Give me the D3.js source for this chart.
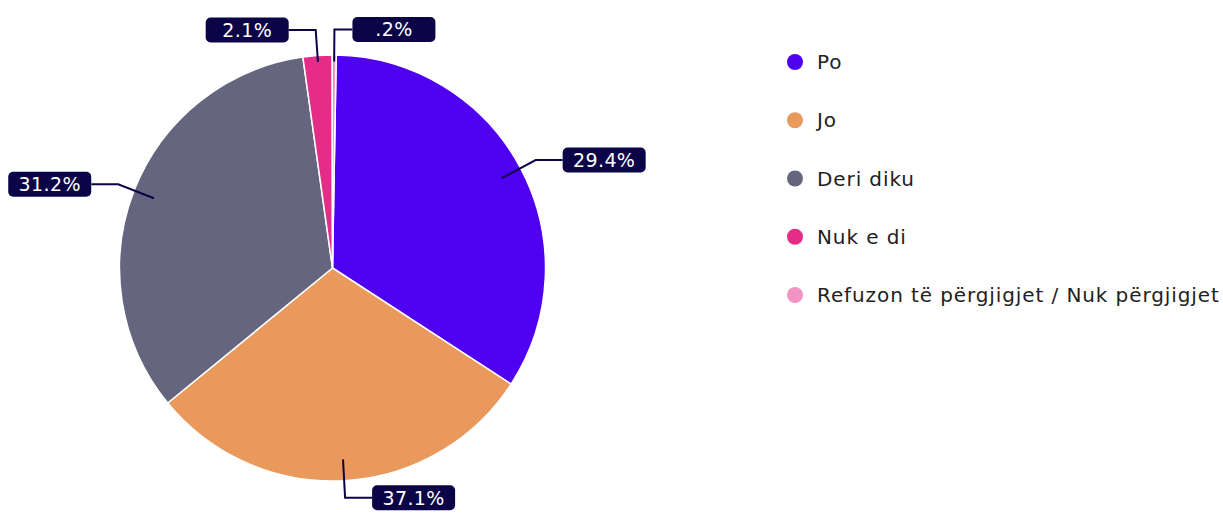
<!DOCTYPE html>
<html>
<head>
<meta charset="utf-8">
<script src="https://cdn.jsdelivr.net/npm/d3@7"></script>
<style>
  body { margin: 0; background: #fff; }
  svg { display: block; font-family: "DejaVu Sans", sans-serif; }
</style>
</head>
<body>
<div class="container"></div>
<script>
var categories = ["Po", "Jo", "Deri diku", "Nuk e di", "Refuzon të përgjigjet / Nuk përgjigjet"];
var shares = [33.9, 29.9, 33.7, 2.2, 0.3];
var labels = ["29.4%", "37.1%", "31.2%", "2.1%", ".2%"];
var colors = ["#5000f0", "#e9995b", "#65657f", "#e52d87", "#f095c3"];

const WIDTH = 1223;
const HEIGHT = 520;
const CX = 332.5;
const CY = 268;
const RADIUS = 213;
const NAVY = "#0b0547";

var svg = d3.select(".container").append("svg")
  .attr("width", WIDTH)
  .attr("height", HEIGHT);

var translate = function(x, y) {
  return "translate(" + x + "," + y + ")";
};

var data = categories.map(function(c, i) {
  return { name: c, value: shares[i], label: labels[i], color: colors[i] };
});

var startOffset = 1 * Math.PI / 180;
var pie = d3.pie()
  .sort(null)
  .value(function(d) { return d.value; })
  .startAngle(startOffset)
  .endAngle(2 * Math.PI + startOffset);

var arcs = pie(data);

var arc = d3.arc().innerRadius(0).outerRadius(RADIUS);

var pieGroup = svg.append("g").attr("transform", translate(CX, CY));

pieGroup.selectAll("path.slice")
  .data(arcs)
  .enter().append("path")
  .attr("class", "slice")
  .attr("d", arc)
  .attr("fill", function(d) { return d.data.color; })
  .attr("stroke", "#fff")
  .attr("stroke-width", 1.5)
  .attr("stroke-linejoin", "round");

// leader lines + boxed labels
var polar = function(angle, r) {
  return [Math.sin(angle) * r, -Math.cos(angle) * r];
};

var BOX_W = 83, BOX_H = 25, TAIL = 27;

var labelGroup = pieGroup.selectAll("g.label")
  .data(arcs)
  .enter().append("g")
  .attr("class", "label");

labelGroup.each(function(d) {
  var g = d3.select(this);
  var mid = (d.startAngle + d.endAngle) / 2;
  var small = (d.endAngle - d.startAngle) < 0.2;
  var p0 = polar(mid, RADIUS * (small ? 0.97 : 0.9));
  var p1 = polar(mid, RADIUS * (small ? 1.12 : 1.08));
  var right = Math.sin(mid) >= 0;
  var tail = small && right ? 18 : TAIL;
  var p2 = [p1[0] + (right ? tail : -tail), p1[1]];

  g.append("path")
    .attr("d", d3.line()([p0, p1, p2]))
    .attr("fill", "none")
    .attr("stroke", NAVY)
    .attr("stroke-width", 2);

  var bx = right ? p2[0] : p2[0] - BOX_W;
  g.append("rect")
    .attr("x", bx)
    .attr("y", p2[1] - BOX_H / 2)
    .attr("width", BOX_W)
    .attr("height", BOX_H)
    .attr("rx", 5)
    .attr("fill", NAVY);

  g.append("text")
    .attr("x", bx + BOX_W / 2)
    .attr("y", p2[1])
    .attr("dy", "0.36em")
    .attr("text-anchor", "middle")
    .attr("fill", "#fff")
    .attr("font-size", 19)
    .attr("letter-spacing", 0.4)
    .text(d.data.label);
});

// legend
var legendY = d3.scalePoint()
  .domain(categories)
  .range([62, 295]);

var legend = svg.append("g");

var item = legend.selectAll("g.item")
  .data(data)
  .enter().append("g")
  .attr("class", "item")
  .attr("transform", function(d) { return translate(795, legendY(d.name)); });

item.append("circle")
  .attr("r", 8)
  .attr("fill", function(d) { return d.color; });

item.append("text")
  .attr("x", 22)
  .attr("dy", "0.35em")
  .attr("fill", "#222")
  .attr("font-size", 20)
  .attr("letter-spacing", 0.9)
  .text(function(d) { return d.name; });
</script>
</body>
</html>
